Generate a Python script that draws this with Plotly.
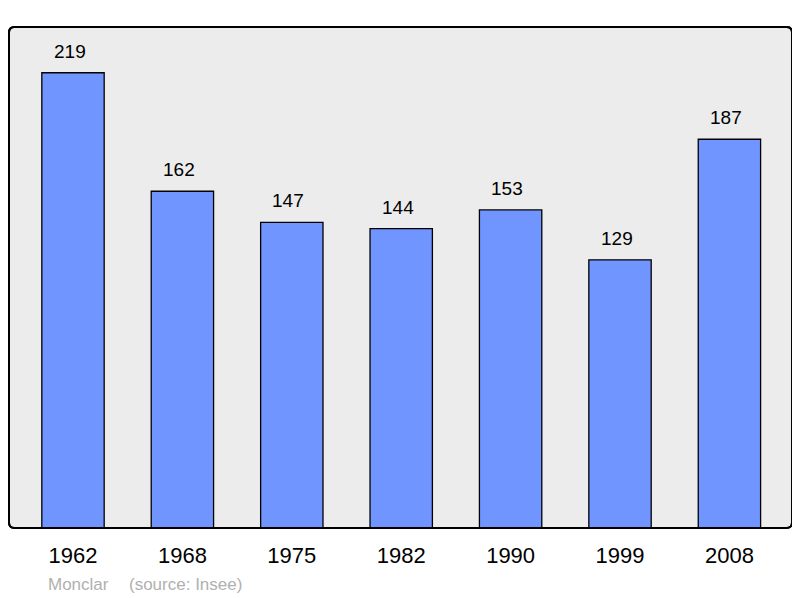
import plotly.graph_objects as go

years = ["1962", "1968", "1975", "1982", "1990", "1999", "2008"]
population = [219, 162, 147, 144, 153, 129, 187]
footer_place = "Monclar"
footer_source = "(source: Insee)"

x_pos = list(range(len(years)))
FONT = "Liberation Sans, Arial"

fig = go.Figure()
fig.add_trace(go.Bar(
    x=x_pos, y=population, width=0.57,
    marker=dict(color="#7095ff", line=dict(color="#000000", width=1.3)),
    hoverinfo="skip",
))

for xi, v in zip(x_pos, population):
    fig.add_annotation(x=xi, y=v, text=str(v), showarrow=False,
                       yanchor="bottom", yshift=9, xshift=-3.5,
                       font=dict(family=FONT, size=19, color="#000"))

fig.add_annotation(xref="paper", yref="paper", x=0.047, y=-0.112, xanchor="left", yanchor="middle",
                   text=footer_place, showarrow=False,
                   font=dict(family=FONT, size=17, color="#b0b0b0"))
fig.add_annotation(xref="paper", yref="paper", x=0.151, y=-0.112, xanchor="left", yanchor="middle",
                   text=footer_source, showarrow=False,
                   font=dict(family=FONT, size=17, color="#b0b0b0"))

# rounded plot frame
rx, ry = 0.007, 0.011
path = (f"M {rx},0 L {1-rx},0 Q 1,0 1,{ry} L 1,{1-ry} Q 1,1 {1-rx},1 "
        f"L {rx},1 Q 0,1 0,{1-ry} L 0,{ry} Q 0,0 {rx},0 Z")
fig.add_shape(type="path", path=path, xref="paper", yref="paper",
              fillcolor="#ececec", line=dict(color="#000000", width=2), layer="below")
fig.add_shape(type="path", path=path, xref="paper", yref="paper",
              fillcolor="rgba(0,0,0,0)", line=dict(color="#000000", width=2), layer="above")

# page body has an 8px margin, so the figure is 8px smaller than the window
fig.update_layout(
    width=792, height=590,
    margin=dict(l=1, r=8, t=19, b=70),
    paper_bgcolor="white", plot_bgcolor="rgba(0,0,0,0)",
    showlegend=False,
    xaxis=dict(range=[-0.585, 6.572], tickmode="array", tickvals=x_pos, ticktext=years,
               showgrid=False, zeroline=False, showline=False,
               ticks="outside", ticklen=8, tickcolor="rgba(0,0,0,0)",
               tickfont=dict(family=FONT, size=22, color="#000")),
    yaxis=dict(range=[0, 241], showgrid=False, zeroline=False, showline=False,
               showticklabels=False, ticks=""),
)

fig.write_html("out.html")
